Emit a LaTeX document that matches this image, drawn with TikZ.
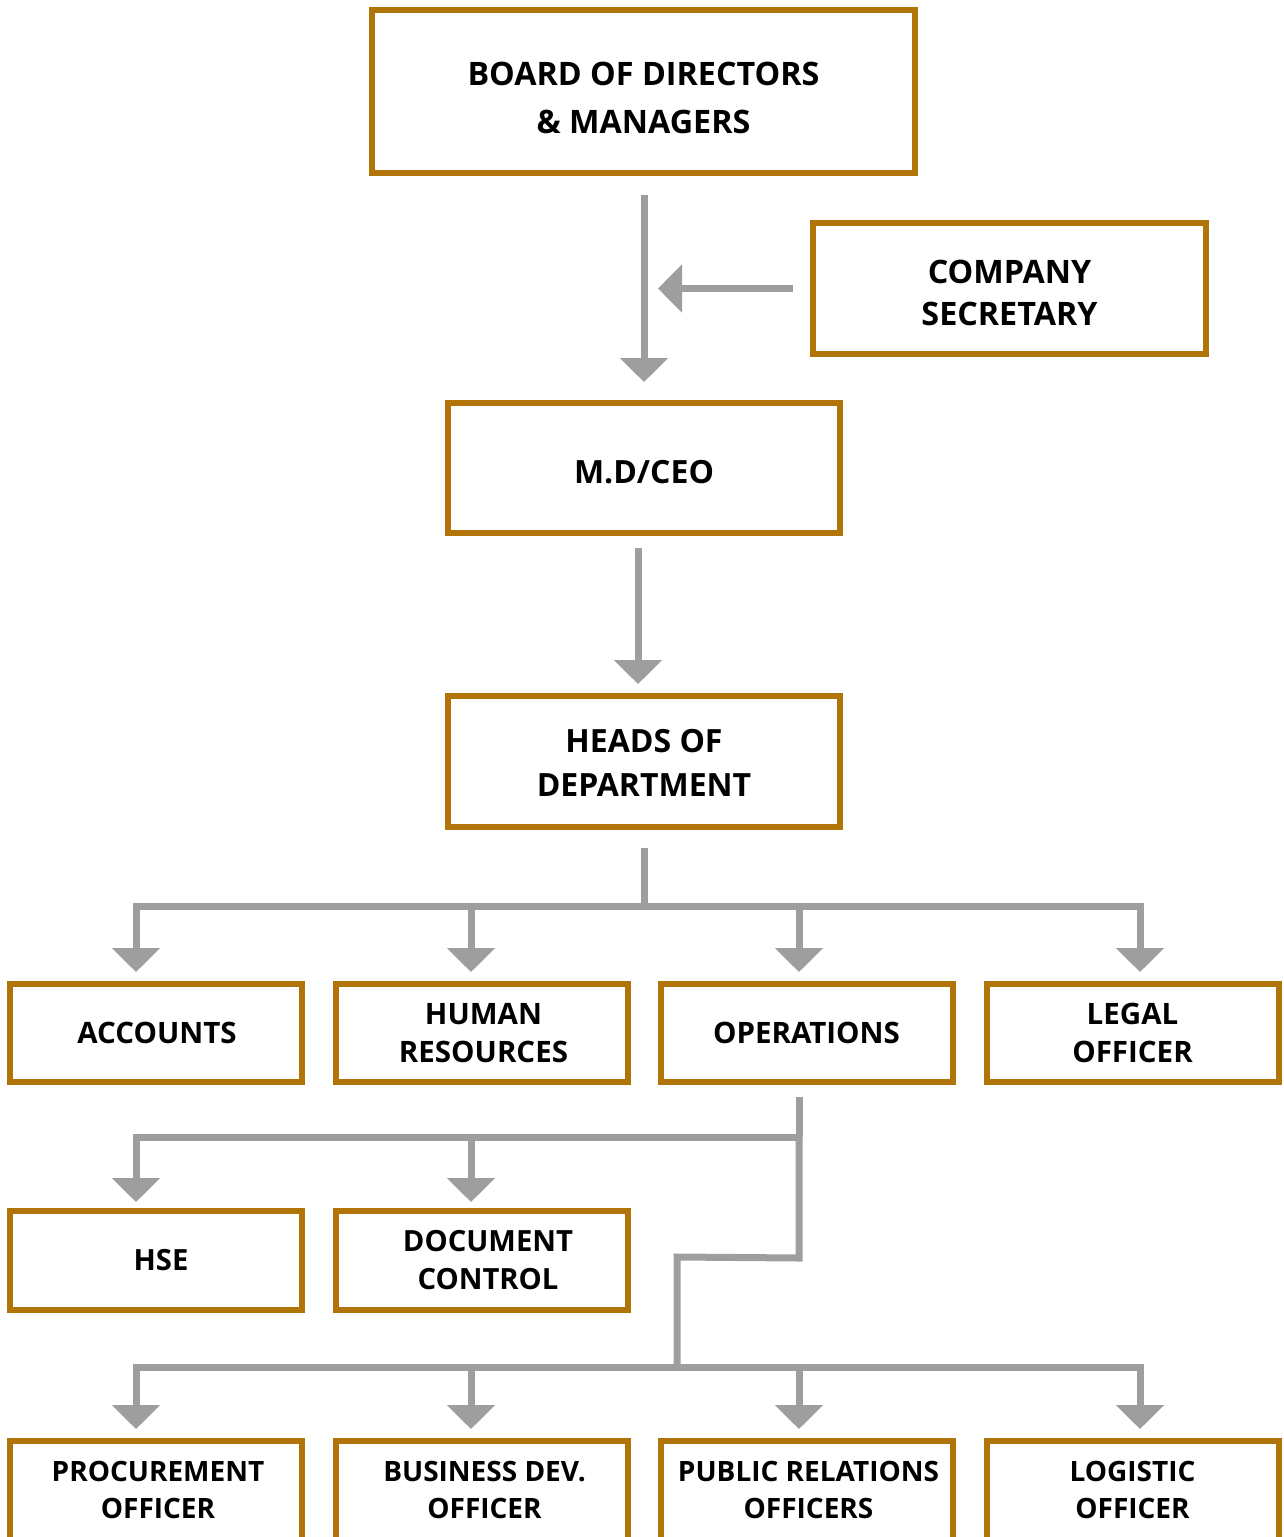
\documentclass[tikz,border=0pt]{standalone}
\usepackage{fontspec}
\setmainfont{Open Sans}
\usetikzlibrary{arrows.meta}
\definecolor{boxc}{RGB}{176,116,8}
\definecolor{linec}{RGB}{158,158,158}
\begin{document}
\begin{tikzpicture}[x=1pt,y=-1pt,
  box/.style={draw=boxc, line width=6pt, fill=white, inner sep=0pt},
  txt/.style={align=center, inner sep=0pt},
  conn/.style={draw=linec, line width=7pt},
  arr/.style={conn, -{Triangle[length=24pt,width=47pt]}},
  fA/.style={font=\fontsize{32.3}{48}\selectfont\bfseries},
  fB/.style={font=\fontsize{32.3}{42}\selectfont\bfseries},
  fC/.style={font=\fontsize{32}{44}\selectfont\bfseries},
  fD/.style={font=\fontsize{29.5}{38}\selectfont\bfseries},
  fE/.style={font=\fontsize{29.2}{38}\selectfont\bfseries},
  fF/.style={font=\fontsize{28}{37}\selectfont\bfseries},
  rowbox/.style={box, minimum width=292pt, minimum height=98pt},
]
\useasboundingbox (0,0) rectangle (1284,1537);
\clip (0,0) rectangle (1284,1537);

% boxes
\node[box, minimum width=543pt, minimum height=163pt] (board) at (643.5,91.5) {};
\node[box, minimum width=393pt, minimum height=131pt] (sec) at (1009.5,288.5) {};
\node[box, minimum width=392pt, minimum height=130pt] (md) at (644,468) {};
\node[box, minimum width=392pt, minimum height=131pt] (hod) at (644,761.5) {};

\node[rowbox] (acc) at (156,1033) {};
\node[rowbox] (hr) at (482,1033) {};
\node[rowbox] (ops) at (806.5,1033) {};
\node[rowbox] (legal) at (1132.5,1033) {};

\node[rowbox, minimum height=99pt] (hse) at (156,1260.5) {};
\node[rowbox, minimum height=99pt] (doc) at (482,1260.5) {};

\node[rowbox, minimum height=102pt] (proc) at (156,1492) {};
\node[rowbox, minimum height=102pt] (bus) at (482,1492) {};
\node[rowbox, minimum height=102pt] (pr) at (806.5,1492) {};
\node[rowbox, minimum height=102pt] (log) at (1132.5,1492) {};

% texts
\node[txt, fA] (boardt) at ([yshift=-6pt]board.center) {BOARD OF DIRECTORS\\\& MANAGERS};
\node[txt, fB] (sect) at ([yshift=-4pt]sec.center) {COMPANY\\SECRETARY};
\node[txt, fC] (mdt) at ([yshift=-4pt]md.center) {M.D/CEO};
\node[txt, fC] (hodt) at ([yshift=-1pt]hod.center) {HEADS OF\\DEPARTMENT};

\node[txt, fD] (acct) at ([xshift=1pt]acc.center) {ACCOUNTS};
\node[txt, fD] (hrt) at ([xshift=1.5pt]hr.center) {HUMAN\\RESOURCES};
\node[txt, fD] (opst) at (ops.center) {OPERATIONS};
\node[txt, fD] (legalt) at (legal.center) {LEGAL\\OFFICER};

\node[txt, fE] (hset) at ([xshift=5pt]hse.center) {HSE};
\node[txt, fE] (doct) at ([xshift=6pt]doc.center) {DOCUMENT\\CONTROL};

\node[txt, fF] (proct) at ([xshift=2pt,yshift=2pt]proc.center) {PROCUREMENT\\OFFICER};
\node[txt, fF] (bust) at ([xshift=2.5pt,yshift=2pt]bus.center) {BUSINESS DEV.\\OFFICER};
\node[txt, fF] (prt) at ([xshift=2pt,yshift=2pt]pr.center) {PUBLIC RELATIONS\\OFFICERS};
\node[txt, fF] (logt) at ([yshift=2pt]log.center) {LOGISTIC\\OFFICER};

% top connectors
\draw[arr, shorten <=19pt, shorten >=18pt] ([xshift=0.5pt]board.south) -- (md.north);
\draw[arr, shorten <=17pt, shorten >=14pt] (sec.west) -- (sec.west -| md.north);
\draw[arr, shorten <=12pt, shorten >=9pt] ([xshift=-6pt]md.south) -- ([xshift=-6pt]hod.north);

% heads of department bus
\coordinate (hj) at (644,906);
\draw[conn, shorten <=18pt] (hod.south) -- (hj);
\draw[arr] (hj) -| ([xshift=-20pt,yshift=9pt]acc.north);
\draw[arr] (hj) -| ([xshift=-11pt,yshift=9pt]hr.north);
\draw[arr] (hj) -| ([xshift=-7.5pt,yshift=9pt]ops.north);
\draw[arr] (hj) -| ([xshift=7.5pt,yshift=9pt]legal.north);

% operations bus
\coordinate (oj) at (799,1137);
\coordinate (oe) at (799,1258);
\coordinate (ow) at (677,1257);
\coordinate (bj) at (677,1367);
\draw[conn, shorten <=12pt] ([xshift=-7.5pt]ops.south) -- (oj);
\draw[arr] (oj) -| ([xshift=-20pt,yshift=6pt]hse.north);
\draw[arr] (oj) -| ([xshift=-11pt,yshift=6pt]doc.north);
\draw[conn] (oj) -- (oe) -- (ow) -- (bj);
\draw[arr] (bj) -| ([xshift=-20pt,yshift=9pt]proc.north);
\draw[arr] (bj) -| ([xshift=-11pt,yshift=9pt]bus.north);
\draw[arr] (bj) -| ([xshift=-7.5pt,yshift=9pt]pr.north);
\draw[arr] (bj) -| ([xshift=7.5pt,yshift=9pt]log.north);
\end{tikzpicture}
\end{document}
